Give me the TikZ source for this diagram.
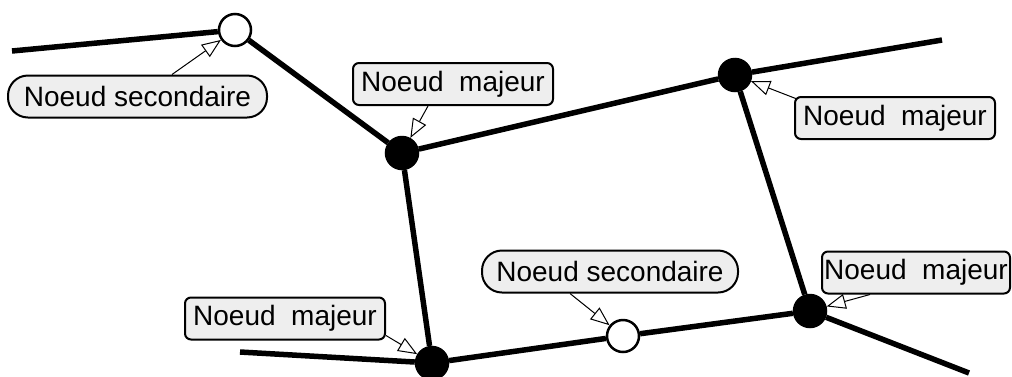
\documentclass[tikz,border=0pt]{standalone}
\usepackage{fontspec}
\setmainfont{Liberation Sans}
\usetikzlibrary{arrows.meta}

\begin{document}
\begin{tikzpicture}[x=1pt, y=-1pt,
	major/.style={circle, draw, line width=2.5, fill=black, minimum size=32, inner sep=0},
	minor/.style={circle, draw, line width=2.5, fill=white, minimum size=32, inner sep=0},
	road/.style={line width=5.5},
	tag/.style={draw, line width=2, fill=gray!13, font=\fontsize{28}{32}\selectfont, inner sep=0, minimum height=42},
	tagmaj/.style={tag, rounded corners=6, minimum width=200},
	tagsec/.style={tag, rounded corners=20},
	pointer/.style={line width=1, -{Triangle[open, length=19pt, width=15pt]}}]

	\useasboundingbox (0,0) rectangle (1012,376);

	\coordinate (w1) at (12,51);
	\coordinate (e1) at (942,40);
	\coordinate (e2) at (969,373);
	\coordinate (w2) at (240,352);

	\node [minor] (S1) at (235,30) {};
	\node [major] (M1) at (402,153) {};
	\node [major] (M2) at (735,75) {};
	\node [major] (M3) at (810,311) {};
	\node [major] (M4) at (432,363) {};
	\node [minor] (S2) at (623,336) {};

	\draw [road] (w1) -- (S1);
	\draw [road] (S1) -- (M1);
	\draw [road] (M1) -- (M2);
	\draw [road] (M2) -- (e1);
	\draw [road] (M2) -- (M3);
	\draw [road] (M3) -- (e2);
	\draw [road] (M1) -- (M4);
	\draw [road] (w2) -- (M4);
	\draw [road] (M4) -- (S2);
	\draw [road] (S2) -- (M3);

	\node [tagsec, minimum width=259] (T1) at (137.5,96.5) {Noeud secondaire};
	\node [tagmaj] (T2) at (453,84) {Noeud\ \ majeur};
	\node [tagmaj] (T3) at (895,118) {Noeud\ \ majeur};
	\node [tagsec, minimum width=256] (T4) at (610,271.5) {Noeud secondaire};
	\node [tagmaj] (T5) at (285,318.5) {Noeud\ \ majeur};
	\node [tagmaj, minimum width=188] (T6) at (916,272.5) {Noeud\ \ majeur};

	\draw [pointer] ([xshift=34.5]T1.north) -- (S1);
	\draw [pointer] ([xshift=-25]T2.south) -- (M1);
	\draw [pointer] ([shift={(3,3)}]T3.north west) -- (M2);
	\draw [pointer] ([xshift=-40]T4.south) -- (S2);
	\draw [pointer] ([shift={(0,-5)}]T5.south east) -- (M4);
	\draw [pointer] ([xshift=-46]T6.south) -- (M3);

\end{tikzpicture}
\end{document}
